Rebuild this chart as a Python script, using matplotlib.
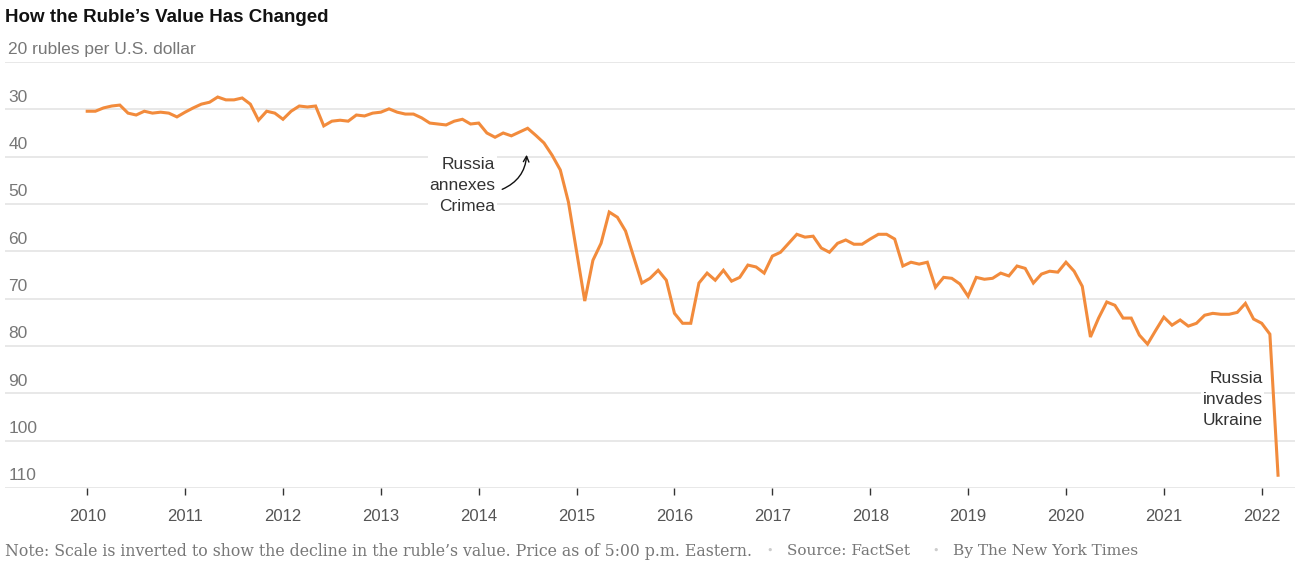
import matplotlib
matplotlib.use("Agg")
import matplotlib.pyplot as plt
import numpy as np

# Monthly rubles per U.S. dollar, Jan 2010 - Mar 2022
rubles = [
    30.4, 30.4, 29.7, 29.3, 29.1, 30.8, 31.2, 30.4, 30.8, 30.6, 30.8, 31.6,   # 2010
    30.6, 29.7, 28.9, 28.5, 27.4, 28.0, 28.0, 27.6, 28.9, 32.3, 30.4, 30.8,   # 2011
    32.1, 30.4, 29.3, 29.5, 29.3, 33.5, 32.5, 32.3, 32.5, 31.2, 31.4, 30.8,   # 2012
    30.6, 29.9, 30.6, 31.0, 31.0, 31.8, 32.9, 33.1, 33.3, 32.5, 32.1, 33.1,   # 2013
    32.9, 35.0, 35.9, 35.0, 35.6, 34.8, 34.0, 35.5, 37.1, 39.7, 42.8, 49.6,   # 2014
    60.0, 70.5, 61.9, 58.3, 51.7, 52.8, 55.7, 61.2, 66.7, 65.7, 64.0, 66.1,   # 2015
    73.1, 75.2, 75.2, 66.7, 64.6, 66.1, 64.0, 66.3, 65.5, 62.9, 63.3, 64.6,   # 2016
    61.0, 60.2, 58.3, 56.4, 57.0, 56.8, 59.3, 60.2, 58.3, 57.6, 58.5, 58.5,   # 2017
    57.4, 56.4, 56.4, 57.4, 63.1, 62.3, 62.7, 62.3, 67.6, 65.5, 65.7, 66.9,   # 2018
    69.5, 65.5, 65.9, 65.7, 64.6, 65.2, 63.1, 63.6, 66.7, 64.8, 64.2, 64.4,   # 2019
    62.3, 64.2, 67.4, 78.1, 74.1, 70.7, 71.4, 74.1, 74.1, 77.7, 79.6, 76.7,   # 2020
    73.9, 75.6, 74.5, 75.8, 75.2, 73.5, 73.1, 73.3, 73.3, 72.9, 71.0, 74.3,   # 2021
    75.2, 77.5, 107.3,                                                        # 2022
]
start_year = 2010
years = list(range(2010, 2023))
y_ticks = [20, 30, 40, 50, 60, 70, 80, 90, 100, 110]
y_labels = ["20 rubles per U.S. dollar", "30", "40", "50", "60", "70", "80", "90", "100", "110"]

dates = [start_year + i / 12 for i in range(len(rubles))]

W, H = 1302, 585
fig = plt.figure(figsize=(W / 100, H / 100), dpi=100)
fig.patch.set_facecolor("white")

ax_l, ax_r = 5 / W, 1295 / W
ax_t, ax_b = 1 - 62 / H, 1 - 488 / H
ax = fig.add_axes([ax_l, ax_b, ax_r - ax_l, ax_t - ax_b])

sans = ["Liberation Sans", "DejaVu Sans"]
serif = ["DejaVu Serif", "Liberation Serif"]

# gridlines
for v in y_ticks:
    ax.axhline(v, color="#e2e2e2", lw=1.1, zorder=1)

ax.plot(dates, rubles, color="#F28B3C", lw=2.2, zorder=3, solid_joinstyle="miter")

ax.set_xlim(2009.16, 2022.34)
ax.set_ylim(110, 20)
for s in ax.spines.values():
    s.set_visible(False)
ax.set_yticks([])
ax.set_xticks(years)
ax.set_xticklabels([str(y) for y in years], fontfamily=sans, fontsize=12, color="#555555")
ax.tick_params(axis="x", length=5, width=1, color="#333333", pad=10)

# y labels above gridlines
for v, lab in zip(y_ticks, y_labels):
    ax.text(0.0025, v - 1.0, lab, transform=ax.get_yaxis_transform(), ha="left", va="bottom",
            fontfamily=sans, fontsize=12.5, color="#777777", zorder=2)

# annotations
ax.text(2014.17, 40.0, "Russia\nannexes\nCrimea", ha="right", va="top", fontfamily=sans,
        fontsize=12.5, color="#333333", linespacing=1.5,
        bbox=dict(facecolor="white", edgecolor="none", pad=1))
ax.annotate("", xy=(2014.49, 39.6), xytext=(2014.24, 46.9),
            arrowprops=dict(arrowstyle="->", color="#111111", lw=1, shrinkA=0, shrinkB=0,
                            connectionstyle="arc3,rad=0.3"))
ax.text(2022.01, 85.3, "Russia\ninvades\nUkraine", ha="right", va="top", fontfamily=sans,
        fontsize=12.5, color="#333333", linespacing=1.5,
        bbox=dict(facecolor="white", edgecolor="none", pad=1))

# title
fig.text(5 / W, 1 - 18 / H, "How the Ruble\u2019s Value Has Changed", ha="left", va="center",
         fontfamily=sans, fontweight="bold", fontsize=13.5, color="#121212")

# footer
fy = 1 - 551 / H
fig.text(5 / W, fy, "Note: Scale is inverted to show the decline in the ruble\u2019s value. Price as of 5:00 p.m. Eastern.",
         ha="left", va="center", fontfamily=serif, fontsize=11.35, color="#777777")
fig.text(770 / W, fy, "\u2022", ha="center", va="center", fontfamily=serif, fontsize=8, color="#cccccc")
fig.text(787 / W, fy, "Source: FactSet", ha="left", va="center", fontfamily=serif, fontsize=11, color="#777777")
fig.text(936 / W, fy, "\u2022", ha="center", va="center", fontfamily=serif, fontsize=8, color="#cccccc")
fig.text(953 / W, fy, "By The New York Times", ha="left", va="center", fontfamily=serif, fontsize=11.1, color="#777777")

fig.savefig("out.png", dpi=100, facecolor="white")
